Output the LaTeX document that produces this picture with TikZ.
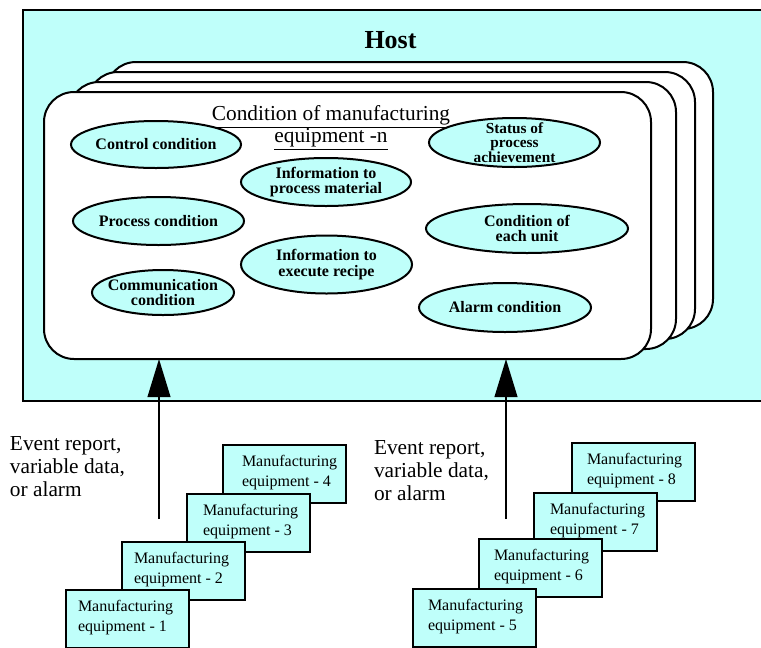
\documentclass[tikz,border=0pt]{standalone}
\usepackage{fontspec}
\setmainfont{Liberation Serif}
\usetikzlibrary{arrows.meta,shapes.geometric,calc}
\definecolor{hostcyan}{RGB}{191,255,250}
\begin{document}
\begin{tikzpicture}[x=0.75pt,y=-0.75pt,
  every node/.style={inner sep=0pt, outer sep=0pt},
  heavy/.style={draw=black, line width=1.5pt},
  hostframe/.style={heavy, fill=hostcyan, anchor=north west},
  sheet/.style={heavy, fill=white, rounded corners=22.5pt,
    minimum width=455.25pt, minimum height=200.25pt, anchor=north west},
  oval/.style={ellipse, heavy, fill=hostcyan},
  ovaltext/.style={font=\bfseries\fontsize{12pt}{11.5pt}\selectfont, align=center},
  unit/.style={draw=black, line width=2pt, fill=hostcyan,
    minimum width=92.25pt, minimum height=43.5pt, anchor=north west},
  unittext/.style={font=\fontsize{12pt}{15pt}\selectfont, align=left, anchor=north west},
  flow/.style={line width=1.5pt, -{Triangle[length=28.5pt,width=17pt]}},
  note/.style={font=\fontsize{16pt}{17.25pt}\selectfont, align=left, anchor=north west}
]
\clip (0,0) rectangle (761,647);

% host frame
\node[hostframe, minimum width=570pt, minimum height=293.25pt] (host) at (23,10) {};
\node[font=\bfseries\fontsize{19.5pt}{22pt}\selectfont, anchor=base] (hosttitle) at (390.5,48) {Host};

% stack of equipment sheets, back to front
\node[sheet] (sheet3) at (106,62) {};
\node[sheet] (sheet2) at (88,72) {};
\node[sheet] (sheet1) at (69,82) {};
\node[sheet] (sheet0) at (44,92) {};

\node[font=\fontsize{16pt}{16.5pt}\selectfont, align=center, anchor=north] (title) at (331,105.5)
  {\underline{Condition of manufacturing}\\\underline{equipment -n}};

% condition items
\node[oval, minimum width=127.5pt, minimum height=35.25pt] (control) at (156,144.5) {};
\node[ovaltext] at (control) {Control condition};
\node[oval, minimum width=127.5pt, minimum height=36pt] (material) at (326,182) {};
\node[ovaltext] at (material) {Information to\\process material};
\node[oval, minimum width=128.25pt, minimum height=36.75pt] (status) at (514.5,142.5) {};
\node[ovaltext, font=\bfseries\fontsize{11.5pt}{10.8pt}\selectfont] at (status) {Status of\\process\\achievement};
\node[oval, minimum width=128.25pt, minimum height=36pt] (process) at (158.5,221) {};
\node[ovaltext] at (process) {Process condition};
\node[oval, minimum width=128.25pt, minimum height=43.5pt] (recipe) at (326.5,264.5) {};
\node[ovaltext] at (recipe) {Information to\\execute recipe};
\node[oval, minimum width=106.5pt, minimum height=33.75pt] (comm) at (163,292.5) {};
\node[ovaltext] at (comm) {Communication\\condition};
\node[oval, minimum width=151.5pt, minimum height=36.75pt] (unit) at (527,228.5) {};
\node[ovaltext] at (unit) {Condition of\\each unit};
\node[oval, minimum width=129pt, minimum height=36.75pt] (alarm) at (505,307.5) {};
\node[ovaltext] at (alarm) {Alarm condition};

% reports flowing up to the host
\coordinate (srcA) at (159,519);
\coordinate (srcB) at (506,519);
\draw[flow] (srcA) -- (srcA |- sheet0.south);
\draw[flow] (srcB) -- (srcB |- sheet0.south);

\node[note] (noteA) at (10,437) {Event report,\\variable data,\\or alarm};
\node[note] (noteB) at (374,441) {Event report,\\variable data,\\or alarm};

% manufacturing equipment, back to front
\foreach \n/\x/\y/\dx in {4/223/445/19, 3/187/494/16, 2/122/542/12, 1/66/590/12,
                          8/572/443/15, 7/534/493/16, 6/479/539/15, 5/413/589/15} {
  \node[unit] (eq\n) at (\x,\y) {};
  \node[unittext] at ($(eq\n.north west)+(\dx,10)$) {Manufacturing\\equipment - \n};
}
\end{tikzpicture}
\end{document}
